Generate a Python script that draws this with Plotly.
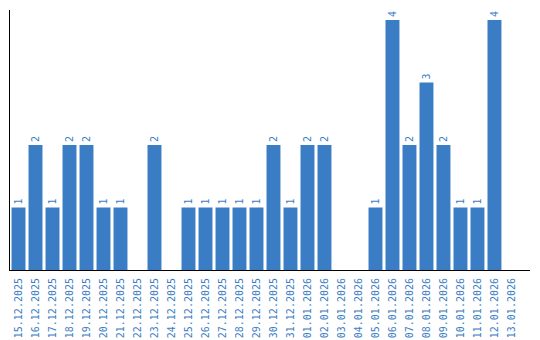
import plotly.graph_objects as go

dates = ["15.12.2025", "16.12.2025", "17.12.2025", "18.12.2025", "19.12.2025",
         "20.12.2025", "21.12.2025", "22.12.2025", "23.12.2025", "24.12.2025",
         "25.12.2025", "26.12.2025", "27.12.2025", "28.12.2025", "29.12.2025",
         "30.12.2025", "31.12.2025", "01.01.2026", "02.01.2026", "03.01.2026",
         "04.01.2026", "05.01.2026", "06.01.2026", "07.01.2026", "08.01.2026",
         "09.01.2026", "10.01.2026", "11.01.2026", "12.01.2026", "13.01.2026"]
counts = [1, 2, 1, 2, 2, 1, 1, 0, 2, 0,
          1, 1, 1, 1, 1, 2, 1, 2, 2, 0,
          0, 1, 4, 2, 3, 2, 1, 1, 4, 0]

blue = "#3b7dc4"
labels = [str(v) if v else "" for v in counts]

fig = go.Figure(go.Bar(
    x=dates, y=counts, text=labels, textposition="outside", textangle=-90,
    constraintext="none", cliponaxis=False,
    marker=dict(color=blue, line=dict(width=0)),
    textfont=dict(family="DejaVu Sans Mono", size=10, color=blue),
))
fig.update_layout(
    width=540, height=340, margin=dict(l=10, r=10, t=10, b=70),
    paper_bgcolor="white", plot_bgcolor="white", bargap=0.18,
    showlegend=False,
    font=dict(family="DejaVu Sans Mono", size=10, color=blue),
)
fig.update_xaxes(type="category", tickangle=-90, showline=True, linecolor="black",
                 linewidth=1, ticks="outside", ticklen=3, tickcolor="rgba(0,0,0,0)",
                 showgrid=False, automargin=False, range=[-0.5, 30.09],
                 tickfont=dict(family="DejaVu Sans Mono", size=10, color=blue))
fig.update_yaxes(range=[0, 4.16], showline=True, linecolor="black", linewidth=1,
                 showticklabels=False, ticks="", showgrid=False, zeroline=False)
fig.write_html("out.html")
